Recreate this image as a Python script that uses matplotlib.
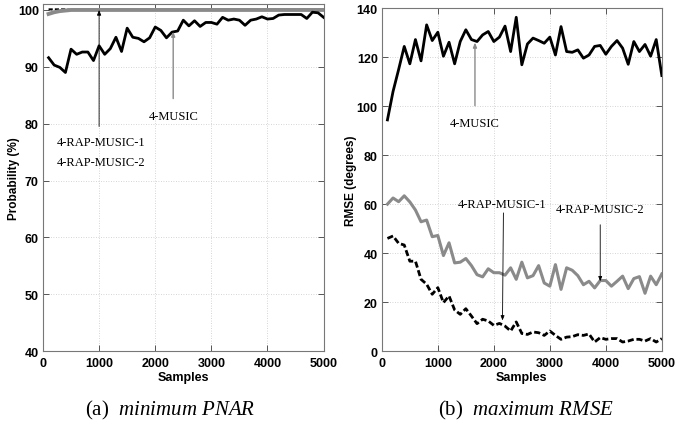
import matplotlib
matplotlib.use("Agg")
import matplotlib.pyplot as plt

plt.rcParams.update({"mathtext.fontset": "custom",
                     "mathtext.rm": "Liberation Serif",
                     "mathtext.it": "Liberation Serif:italic"})

# samples axis: 100..5000 in steps of 100
samples = list(range(100, 5001, 100))

# (a) minimum PNAR, probability (%)
pnar_music = [91.6, 90.3, 89.9, 89.0, 93.1, 92.2, 92.6, 92.6, 91.1, 93.7,
              92.2, 93.2, 95.2, 92.7, 96.8, 95.2, 95.0, 94.4, 95.1, 97.0,
              96.4, 95.1, 96.1, 96.3, 98.2, 97.2, 98.1, 97.1, 97.8, 97.8,
              97.5, 98.7, 98.2, 98.4, 98.2, 97.3, 98.2, 98.4, 98.8, 98.4,
              98.5, 99.1, 99.2, 99.2, 99.2, 99.2, 98.5, 99.6, 99.5, 98.7]
pnar_rap1 = [100.1, 100.1, 100.1, 100.1, 100.0] + [100.0] * 45
pnar_rap2 = [99.3, 99.6, 99.8, 99.9] + [100.0] * 46

# (b) maximum RMSE, degrees
rmse_music = [94.4, 106.0, 115.0, 124.4, 117.3, 127.2, 118.5, 133.2, 126.8, 130.2,
              120.4, 126.1, 117.3, 126.4, 131.2, 127.2, 126.4, 129.1, 130.5, 126.4,
              128.2, 132.7, 122.3, 136.3, 116.9, 125.4, 127.8, 126.8, 125.7, 128.2,
              120.9, 132.5, 122.3, 122.0, 123.0, 119.6, 120.9, 124.4, 124.8, 121.2,
              124.4, 126.8, 123.7, 117.1, 126.4, 122.3, 125.2, 120.4, 127.2, 112.5]
rmse_rap1 = [46.0, 47.0, 44.0, 43.3, 36.7, 36.7, 29.3, 27.3, 23.2, 25.9,
             19.8, 22.5, 16.8, 15.0, 17.3, 14.3, 11.2, 13.0, 12.3, 10.5,
             11.3, 10.2, 8.2, 11.9, 7.2, 6.8, 7.8, 7.5, 6.4, 8.2,
             6.4, 4.8, 5.7, 5.9, 6.7, 6.4, 7.0, 3.7, 5.5, 4.8,
             5.1, 5.1, 3.7, 4.1, 4.8, 4.8, 4.1, 5.1, 3.7, 5.1]
rmse_rap2 = [60.0, 62.5, 61.0, 63.4, 60.9, 57.6, 52.8, 53.5, 46.7, 47.2,
             39.0, 44.2, 36.0, 36.3, 37.8, 34.9, 31.2, 30.3, 33.6, 32.0,
             32.0, 31.0, 34.0, 29.3, 36.3, 29.9, 30.8, 34.9, 27.8, 26.5,
             35.3, 25.2, 34.0, 33.0, 30.8, 27.1, 28.5, 25.8, 28.8, 28.8,
             26.5, 28.5, 30.6, 25.5, 29.6, 30.4, 23.6, 30.6, 27.1, 31.5]

xticks = [0, 1000, 2000, 3000, 4000, 5000]
GRAY = "#8a8a8a"
SANS = ["Liberation Sans", "DejaVu Sans"]
SERIF = ["Liberation Serif", "DejaVu Serif"]
ARROW = "-|>,head_length=0.3,head_width=0.12"


def style_axes(ax, ylim, yticks, ylabel, ylab_x):
    ax.set_xlim(0, 5000)
    ax.set_ylim(*ylim)
    ax.set_xticks(xticks)
    ax.set_yticks(yticks)
    ax.grid(True, ls=(0, (1, 2)), lw=0.6, color="#c8c8c8")
    ax.tick_params(direction="in", top=True, right=True, length=4, width=0.7,
                   color="#555555", pad=3)
    ax.tick_params(axis="x", pad=4)
    for lab in ax.get_xticklabels() + ax.get_yticklabels():
        lab.set_family(SANS); lab.set_fontweight("bold"); lab.set_fontsize(9)
    for sp in ax.spines.values():
        sp.set_color("#777777"); sp.set_linewidth(0.8)
    ax.set_xlabel("Samples", family=SANS, fontweight="bold", fontsize=9, labelpad=2)
    ax.set_ylabel(ylabel, family=SANS, fontweight="bold", fontsize=8.5)
    ax.yaxis.set_label_coords(ylab_x, 0.5)


fig = plt.figure(figsize=(6.93, 4.39), dpi=100)
axL = fig.add_axes([0.062, 0.198, 0.405, 0.790])
axR = fig.add_axes([0.551, 0.198, 0.404, 0.781])

# (a)
axL.plot(samples, pnar_rap1, color="black", lw=1.5, ls=(0, (2, 1)), zorder=3)
axL.plot(samples, pnar_rap2, color=GRAY, lw=2.8, zorder=4)
axL.plot(samples, pnar_music, color="black", lw=2.0, zorder=5)
style_axes(axL, (40, 101), range(40, 101, 10), "Probability (%)", -0.082)
axL.annotate("", xy=(1000, 100), xytext=(1000, 79.5),
             arrowprops=dict(arrowstyle=ARROW, color="black", lw=0.6,
                             shrinkA=0, shrinkB=0), zorder=6)
axL.text(240, 76.7, "4-RAP-MUSIC-1", family=SERIF, fontsize=9, va="center", ha="left")
axL.text(240, 73.3, "4-RAP-MUSIC-2", family=SERIF, fontsize=9, va="center", ha="left")
axL.annotate("4-MUSIC", xy=(2320, 96.2), xytext=(2320, 81.4), family=SERIF, fontsize=9,
             ha="center", va="center",
             arrowprops=dict(arrowstyle=ARROW, color=GRAY, lw=1.0, shrinkA=6, shrinkB=0),
             zorder=6)

# (b)
axR.plot(samples, rmse_rap2, color=GRAY, lw=2.2, zorder=3)
axR.plot(samples, rmse_rap1, color="black", lw=2.0, ls=(0, (2.2, 1)), zorder=4)
axR.plot(samples, rmse_music, color="black", lw=2.0, zorder=5)
style_axes(axR, (0, 140), range(0, 141, 20), "RMSE (degrees)", -0.089)
axR.annotate("4-MUSIC", xy=(1663, 126), xytext=(1663, 93.2), family=SERIF, fontsize=9,
             ha="center", va="center",
             arrowprops=dict(arrowstyle=ARROW, color=GRAY, lw=1.0, shrinkA=6, shrinkB=0),
             zorder=6)
axR.annotate("4-RAP-MUSIC-1", xy=(2155, 12.5), xytext=(2140, 60), family=SERIF, fontsize=9,
             ha="center", va="center",
             arrowprops=dict(arrowstyle=ARROW, color="black", lw=0.6, shrinkA=0, shrinkB=0,
                             relpos=(0.52, 0.1)), zorder=6)
axR.annotate("4-RAP-MUSIC-2", xy=(3900, 28.5), xytext=(3900, 58), family=SERIF, fontsize=9,
             ha="center", va="center",
             arrowprops=dict(arrowstyle=ARROW, color="black", lw=0.6, shrinkA=5, shrinkB=0),
             zorder=6)

# captions
fig.text(0.245, 0.064, r"(a)  $\mathit{minimum\ PNAR}$", family=SERIF, fontsize=15,
         ha="center", va="center")
fig.text(0.759, 0.064, r"(b)  $\mathit{maximum\ RMSE}$", family=SERIF, fontsize=15,
         ha="center", va="center")

fig.savefig("out.png", dpi=100)
